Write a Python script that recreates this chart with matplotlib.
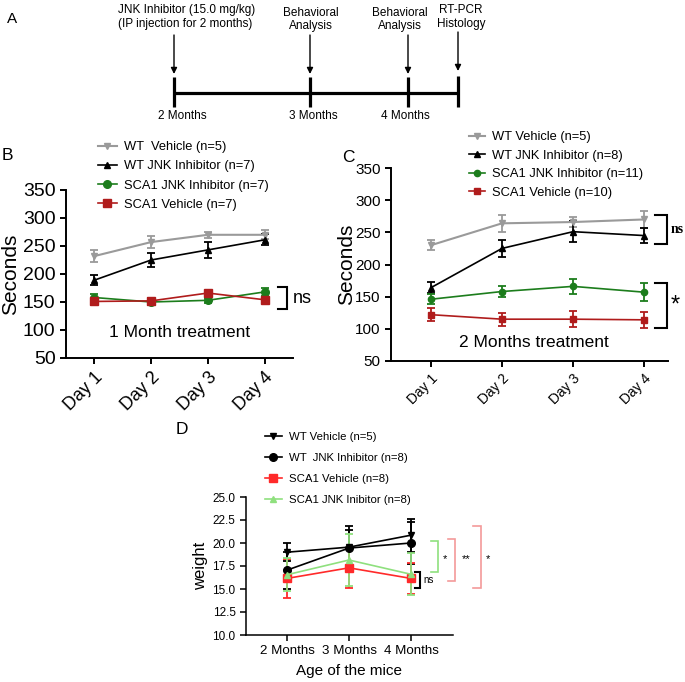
import matplotlib
matplotlib.use('Agg')
import matplotlib.pyplot as plt

plt.rcParams['font.family'] = ['Liberation Sans', 'DejaVu Sans']

# ---------------- data ----------------
days = ['Day 1', 'Day 2', 'Day 3', 'Day 4']
day_x = [1, 2, 3, 4]

# Panel B: 1 month treatment (seconds)
b_labels = ['WT  Vehicle (n=5)', 'WT JNK Inhibitor (n=7)',
            'SCA1 JNK Inhibitor (n=7)', 'SCA1 Vehicle (n=7)']
b_wt_veh = [232, 257, 270, 270]
b_wt_veh_err = [10, 11, 5, 8]
b_wt_jnk = [189, 225, 243, 261]
b_wt_jnk_err = [9, 12, 15, 10]
b_sca_jnk = [158, 150, 153, 168]
b_sca_jnk_err = [6, 5, 5, 7]
b_sca_veh = [151, 152, 166, 154]
b_sca_veh_err = [7, 5, 4, 5]

# Panel C: 2 months treatment (seconds)
c_labels = ['WT Vehicle (n=5)', 'WT JNK Inhibitor (n=8)',
            'SCA1 JNK Inhibitor (n=11)', 'SCA1 Vehicle (n=10)']
c_wt_veh = [230, 264, 266, 270]
c_wt_veh_err = [8, 13, 8, 13]
c_wt_jnk = [164, 225, 251, 245]
c_wt_jnk_err = [9, 13, 16, 12]
c_sca_jnk = [146, 158, 166, 157]
c_sca_jnk_err = [8, 8, 12, 14]
c_sca_veh = [122, 115, 115, 114]
c_sca_veh_err = [10, 10, 12, 12]

# Panel D: body weight
months = ['2 Months', '3 Months', '4 Months']
month_x = [0, 1, 2]
d_labels = ['WT Vehicle (n=5)', 'WT  JNK Inhibitor (n=8)',
            'SCA1 Vehicle (n=8)', 'SCA1 JNK Inibitor (n=8)']
d_wt_veh = [19.0, 19.55, 20.85]
d_wt_veh_err = [1.0, 2.3, 1.8]
d_wt_jnk = [17.05, 19.45, 20.0]
d_wt_jnk_err = [2.0, 2.0, 2.25]
d_sca_veh = [16.15, 17.3, 16.15]
d_sca_veh_err = [2.1, 2.2, 1.7]
d_sca_jnk = [16.55, 18.15, 16.6]
d_sca_jnk_err = [1.8, 2.8, 2.3]

# Panel A: timeline texts
tl_top_labels = ['JNK Inhibitor (15.0 mg/kg)\n(IP injection for 2 months)',
                 'Behavioral\nAnalysis', 'Behavioral\nAnalysis', 'RT-PCR\nHistology']
tl_bottom_labels = ['2 Months', '3 Months', '4 Months']

# ---------------- figure ----------------
W, H = 685, 682
fig = plt.figure(figsize=(W / 100, H / 100), dpi=100)


def rect(l, t, r, b):
    return [l / W, 1 - b / H, (r - l) / W, (b - t) / H]


def style(ax, lw=1.4):
    for s in ['top', 'right']:
        ax.spines[s].set_visible(False)
    for s in ['left', 'bottom']:
        ax.spines[s].set_linewidth(lw)
    ax.tick_params(direction='out', width=lw, length=4)


def series(ax, x, y, e, color, marker, ms, lw=1.2, cap=3):
    ax.errorbar(x, y, yerr=e, fmt='none', ecolor=color, elinewidth=1.3,
                capsize=cap, capthick=1.3, zorder=2)
    ln, = ax.plot(x, y, color=color, marker=marker, markersize=ms,
                  linewidth=lw, zorder=3)
    return ln


def bracket(ax, x0, x1, y0, y1, color='black', lw=1.5):
    ax.plot([x0, x1, x1, x0], [y0, y0, y1, y1], color=color, lw=lw,
            clip_on=False, solid_joinstyle='miter')


# ---------- Panel A (timeline) ----------
axa = fig.add_axes([0, 0, 1, 1])
axa.set_xlim(0, W)
axa.set_ylim(H, 0)
axa.axis('off')
axa.patch.set_alpha(0)
tl_x = [174, 310, 408, 458]
axa.plot([tl_x[0], tl_x[-1]], [93, 93], color='black', lw=2.3, solid_capstyle='butt')
for i, x in enumerate(tl_x):
    top = 76 if i == 3 else 77
    axa.plot([x, x], [top, 107], color='black', lw=2.3, solid_capstyle='butt')
    a0, a1 = (32, 71) if i == 3 else (35, 74)
    axa.annotate('', xy=(x, a1), xytext=(x, a0),
                 arrowprops=dict(arrowstyle='-|>', color='black', lw=1.0,
                                 mutation_scale=9, shrinkA=0, shrinkB=0))
axa.text(118, 17, tl_top_labels[0], ha='left', va='center', fontsize=8.5, linespacing=1.2)
axa.text(311, 19.5, tl_top_labels[1], ha='center', va='center', fontsize=8.5,
         linespacing=1.2, multialignment='center')
axa.text(400, 19.5, tl_top_labels[2], ha='center', va='center', fontsize=8.5,
         linespacing=1.2, multialignment='center')
axa.text(437, 17, tl_top_labels[3], ha='left', va='center', fontsize=8.5,
         linespacing=1.2, multialignment='center')
for xc, lab in zip([182, 313, 405], tl_bottom_labels):
    axa.text(xc, 116, lab, ha='center', va='center', fontsize=8.5)
axa.text(12, 19, 'A', ha='center', va='center', fontsize=11)
axa.text(7, 156, 'B', ha='center', va='center', fontsize=12.5)
axa.text(348, 158, 'C', ha='center', va='center', fontsize=12.5)
axa.text(182, 430, 'D', ha='center', va='center', fontsize=12.5)

# ---------- Panel B ----------
axb = fig.add_axes(rect(66, 190, 293, 358))
style(axb)
gray, dgreen, dred = '#9a9a9a', '#1c7d1c', '#b01c1c'
h1 = series(axb, day_x, b_wt_veh, b_wt_veh_err, gray, 'v', 5, lw=1.5)
h2 = series(axb, day_x, b_wt_jnk, b_wt_jnk_err, 'black', '^', 4.5)
h3 = series(axb, day_x, b_sca_jnk, b_sca_jnk_err, dgreen, 'o', 5.5)
h4 = series(axb, day_x, b_sca_veh, b_sca_veh_err, dred, 's', 5.5)
axb.set_xlim(0.5, 4.5)
axb.set_ylim(50, 350)
axb.set_yticks(range(50, 351, 50))
axb.set_xticks(day_x)
axb.set_xticklabels(days, rotation=45, ha='right', rotation_mode='anchor', fontsize=13)
axb.tick_params(axis='y', labelsize=14)
axb.set_ylabel('Seconds', fontsize=15, labelpad=2)
axb.text(2.5, 95, '1 Month treatment', ha='center', va='center', fontsize=12.5)
bracket(axb, 4.24, 4.39, 176, 138)
axb.text(4.5, 157, 'ns', ha='left', va='center', fontsize=13)
axb.legend([h1, h2, h3, h4], b_labels, loc='upper left', bbox_to_anchor=(0.14, 1.29),
           frameon=False, fontsize=9.3, handlelength=1.5, handletextpad=0.5,
           labelspacing=0.55, borderpad=0, borderaxespad=0)

# ---------- Panel C ----------
axc = fig.add_axes(rect(391, 168, 668, 361))
style(axc)
g1 = series(axc, day_x, c_wt_veh, c_wt_veh_err, gray, 'v', 4, lw=1.5)
g2 = series(axc, day_x, c_wt_jnk, c_wt_jnk_err, 'black', '^', 4)
g3 = series(axc, day_x, c_sca_jnk, c_sca_jnk_err, dgreen, 'o', 4.5)
g4 = series(axc, day_x, c_sca_veh, c_sca_veh_err, dred, 's', 4.5)
axc.set_xlim(0.437, 4.338)
axc.set_ylim(50, 350)
axc.set_yticks(range(50, 351, 50))
axc.set_xticks(day_x)
axc.set_xticklabels(days, rotation=45, ha='right', rotation_mode='anchor', fontsize=10)
axc.tick_params(axis='y', labelsize=11)
axc.set_ylabel('Seconds', fontsize=15, labelpad=-1)
axc.text(2.45, 78, '2 Months treatment', ha='center', va='center', fontsize=12.5)
bracket(axc, 4.155, 4.324, 277, 232)
axc.text(4.38, 254, 'ns', ha='left', va='center', fontsize=10,
         family=['Liberation Serif', 'DejaVu Serif'], fontweight='bold')
bracket(axc, 4.155, 4.324, 172, 101)
axc.text(4.44, 136, '*', ha='center', va='center', fontsize=17)
axc.legend([g1, g2, g3, g4], c_labels, loc='upper left', bbox_to_anchor=(0.28, 1.19),
           frameon=False, fontsize=9.3, handlelength=1.3, handletextpad=0.5,
           labelspacing=0.5, borderpad=0, borderaxespad=0)

# ---------- Panel D ----------
axd = fig.add_axes(rect(246, 497, 453, 635))
style(axd, lw=1.1)
lgreen, lred = '#8fe07e', '#ff2a2a'
k1 = series(axd, month_x, d_wt_veh, d_wt_veh_err, 'black', 'v', 5, cap=3)
k2 = series(axd, month_x, d_wt_jnk, d_wt_jnk_err, 'black', 'o', 5.5, cap=3)
k3 = series(axd, month_x, d_sca_veh, d_sca_veh_err, lred, 's', 5.5, cap=3)
k4 = series(axd, month_x, d_sca_jnk, d_sca_jnk_err, lgreen, '^', 4.5, cap=3)
axd.set_xlim(-0.661, 2.677)
axd.set_ylim(10, 25)
axd.set_yticks([10, 12.5, 15, 17.5, 20, 22.5, 25])
axd.set_yticklabels(['%.1f' % v for v in [10, 12.5, 15, 17.5, 20, 22.5, 25]])
axd.set_xticks(month_x)
axd.set_xticklabels(months, fontsize=9.6)
axd.tick_params(axis='y', labelsize=8.5)
axd.set_ylabel('weight', fontsize=12, labelpad=3)
axd.set_xlabel('Age of the mice', fontsize=11, labelpad=5)
bracket(axd, 2.07, 2.15, 16.8, 15.1)
axd.text(2.2, 15.95, 'ns', ha='left', va='center', fontsize=7)
bracket(axd, 2.32, 2.43, 20.17, 16.8, color=lgreen, lw=1.2)
axd.text(2.55, 18.3, '*', ha='center', va='center', fontsize=8)
bracket(axd, 2.60, 2.71, 20.42, 15.92, color='#f49a9a', lw=1.2)
axd.text(2.89, 18.3, '**', ha='center', va='center', fontsize=8)
bracket(axd, 3.0, 3.13, 21.8, 15.08, color='#f49a9a', lw=1.2)
axd.text(3.24, 18.3, '*', ha='center', va='center', fontsize=8)
axd.legend([k1, k2, k3, k4], d_labels, loc='upper left', bbox_to_anchor=(0.09, 1.47),
           frameon=False, fontsize=8.2, handlelength=1.5, handletextpad=0.6,
           labelspacing=0.95, borderpad=0, borderaxespad=0)

fig.savefig('out.png', dpi=100)
